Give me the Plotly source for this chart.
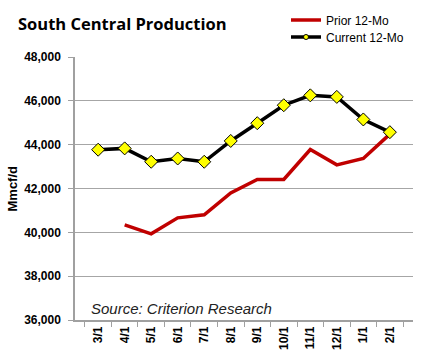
import plotly.graph_objects as go

categories = ["3/1", "4/1", "5/1", "6/1", "7/1", "8/1", "9/1", "10/1", "11/1", "12/1", "1/1", "2/1"]
prior_12mo = [None, 40340, 39930, 40660, 40800, 41800, 42410, 42410, 43780, 43080, 43370, 44480]
current_12mo = [43770, 43830, 43220, 43370, 43220, 44170, 44980, 45800, 46250, 46180, 45150, 44570]
y_ticks = [36000, 38000, 40000, 42000, 44000, 46000, 48000]

font_family = "Liberation Sans, Arial, sans-serif"

fig = go.Figure()
fig.add_trace(go.Scatter(
    x=categories, y=prior_12mo, name="Prior 12-Mo", mode="lines",
    line=dict(color="#C00000", width=3.5), connectgaps=False, showlegend=False,
))
fig.add_trace(go.Scatter(
    x=categories, y=current_12mo, name="Current 12-Mo", mode="lines+markers",
    line=dict(color="#000000", width=3.5),
    marker=dict(symbol="diamond", size=10, color="#FFFF00", line=dict(color="#000000", width=1)),
    showlegend=False,
))
# legend entries (smaller marker like the reference legend)
fig.add_trace(go.Scatter(
    x=[None], y=[None], name="Prior 12-Mo", mode="lines",
    line=dict(color="#C00000", width=3.5), legend="legend",
))
fig.add_trace(go.Scatter(
    x=[None], y=[None], name="Current 12-Mo", mode="lines+markers",
    line=dict(color="#000000", width=3.5),
    marker=dict(symbol="circle", size=5, color="#FFFF00", line=dict(color="#000000", width=1)),
    legend="legend2",
))

W, H = 429, 364
L, R, T, B = 75, 16, 57, 44
pw, ph = W - L - R, H - T - B
def px(x):
    return (x - L) / pw
def py(y):
    return (H - B - y) / ph

legend_style = dict(xref="paper", yref="paper", xanchor="left", yanchor="middle",
                    font=dict(size=12, family=font_family), bgcolor="rgba(0,0,0,0)",
                    itemwidth=30)

fig.update_layout(
    width=W, height=H,
    margin=dict(l=L, r=R, t=T, b=B, autoexpand=False),
    paper_bgcolor="white", plot_bgcolor="white",
    font=dict(family=font_family, color="#000000"),
    showlegend=True,
    legend=dict(x=px(286), y=py(20), **legend_style),
    legend2=dict(x=px(286), y=py(37), **legend_style),
    annotations=[
        dict(text="South Central Production", x=px(16), y=py(23), xref="paper", yref="paper",
             xanchor="left", yanchor="middle", showarrow=False,
             font=dict(size=16.5, family="Open Sans, sans-serif", weight="bold")),
        dict(text="<i>Source: Criterion Research</i>", x=px(89), y=py(319), xref="paper", yref="paper",
             xanchor="left", yanchor="bottom", showarrow=False, font=dict(size=15, color="#222")),
        dict(text="Mmcf/d", x=px(12), y=0.5, xref="paper", yref="paper", textangle=-90,
             xanchor="center", yanchor="middle", showarrow=False,
             font=dict(size=13, weight="bold")),
    ],
)

fig.update_xaxes(
    type="category", categoryorder="array", categoryarray=categories,
    tickson="boundaries", ticks="outside", ticklen=5, tickcolor="#A0A0A0",
    showline=True, linecolor="#A0A0A0", linewidth=1.5, showgrid=False,
    tickangle=-90, tickfont=dict(size=12, family=font_family, weight="bold"),
)
fig.update_yaxes(
    range=[36000, 48000], tickvals=y_ticks, tickformat=",",
    showgrid=True, gridcolor="#A6A6A6", gridwidth=1,
    showline=True, linecolor="#A0A0A0", linewidth=1.5,
    ticks="outside", ticklen=5, tickcolor="#A0A0A0", ticklabelstandoff=5,
    tickfont=dict(size=12, family=font_family, weight="bold"), zeroline=False,
)

fig.write_html("out.html", config={"displayModeBar": False},
               post_script="document.body.style.margin='0';")
